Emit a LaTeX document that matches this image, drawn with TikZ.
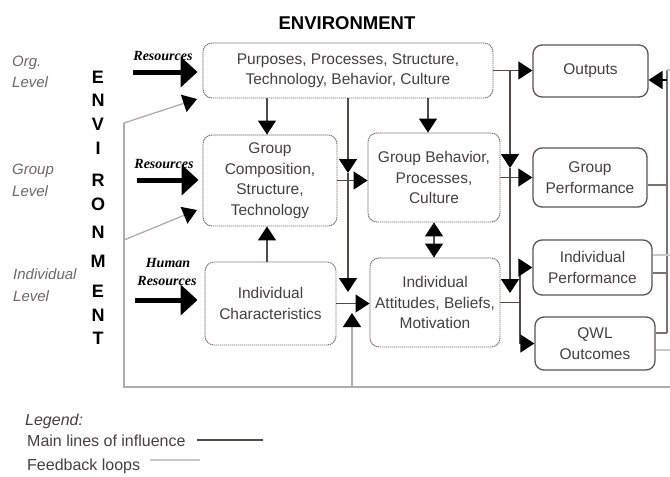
\documentclass[tikz,border=0pt]{standalone}
\usepackage{fontspec}
\setmainfont{Liberation Sans}
\newfontfamily\timesf{Liberation Serif}
\usetikzlibrary{arrows.meta}
\definecolor{boxline}{RGB}{120,105,105}
\definecolor{boxdark}{RGB}{95,82,82}
\definecolor{txt}{RGB}{70,64,64}
\definecolor{mainc}{RGB}{85,72,70}
\definecolor{fbc}{RGB}{180,170,170}
\definecolor{fbdark}{RGB}{125,112,112}
\definecolor{fbfaint}{RGB}{205,198,198}
\definecolor{levelc}{RGB}{110,104,104}
\tikzset{
  boxtext/.style={align=center, text=txt, inner sep=0pt, font=\fontsize{15.5}{20.5}\selectfont},
  dotbox/.style={boxtext, draw=boxline, rounded corners=9pt, line width=0.9pt, dash pattern=on 1.3pt off 0.7pt},
  solbox/.style={boxtext, draw=boxdark, rounded corners=9pt, line width=1.3pt},
  tipm/.tip={Triangle[length=14pt,width=18pt,color=black]},
  mainln/.style={draw=mainc, line width=1.3pt},
  fbln/.style={draw=fbc, line width=1.3pt},
  fbdk/.style={draw=fbdark, line width=1.3pt},
  fbft/.style={draw=fbfaint, line width=1.2pt},
  resarrow/.style={draw=black, line width=5pt, -{Triangle[length=17pt,width=30pt]}},
  reslabel/.style={font=\timesf\bfseries\itshape\fontsize{14}{14}\selectfont, inner sep=0pt},
  levellabel/.style={font=\itshape\fontsize{15}{21.5}\selectfont, text=levelc, align=left, anchor=west, inner sep=0pt},
  envletter/.style={font=\bfseries\fontsize{18}{18}\selectfont, inner sep=0pt},
  legendtext/.style={font=\fontsize{16}{16}\selectfont, text=txt, anchor=west, inner sep=0pt}
}
\begin{document}
\begin{tikzpicture}[x=1pt,y=-1pt]
\useasboundingbox[fill=white] (0,0) rectangle (670,477);

% title
\node[font=\bfseries\fontsize{18.5}{18.5}\selectfont, inner sep=0pt] (title) at (347,23) {ENVIRONMENT};

% level labels
\node[levellabel] (lorg) at (12,72) {Org.\\Level};
\node[levellabel] (lgrp) at (12,180.5) {Group\\Level};
\node[levellabel] (lind) at (13,285) {Individual\\Level};

% vertical ENVIRONMENT
\node[envletter] (e1) at (98,77) {E};
\node[envletter] (e2) at (98,100) {N};
\node[envletter] (e3) at (98,124) {V};
\node[envletter] (e4) at (98,148) {I};
\node[envletter] (e5) at (98,180) {R};
\node[envletter] (e6) at (98,204) {O};
\node[envletter] (e7) at (98,232) {N};
\node[envletter] (e8) at (98,261) {M};
\node[envletter] (e9) at (98,291) {E};
\node[envletter] (e10) at (98,315) {N};
\node[envletter] (e11) at (98,338) {T};

% boxes
\node[dotbox, minimum width=290pt, minimum height=55pt] (org) at (348,70.5) {Purposes, Processes, Structure,\\Technology, Behavior, Culture};
\node[dotbox, minimum width=134pt, minimum height=91pt] (gc) at (270,180.5) {Group\\Composition,\\Structure,\\Technology};
\node[dotbox, minimum width=131pt, minimum height=83pt] (ic) at (270.5,303.5) {Individual\\Characteristics};
\node[dotbox, minimum width=132pt, minimum height=89pt] (gb) at (434,177.5) {Group Behavior,\\Processes,\\Culture};
\node[dotbox, minimum width=130pt, minimum height=89pt] (ia) at (435,302.5) {Individual\\Attitudes, Beliefs,\\Motivation};
\node[solbox, minimum width=115pt, minimum height=52pt] (outp) at (590.5,71) {Outputs};
\node[solbox, minimum width=114pt, minimum height=59pt] (gp) at (590,177.5) {Group\\Performance};
\node[solbox, minimum width=119pt, minimum height=55pt] (ip) at (592.5,267.5) {Individual\\Performance};
\node[solbox, minimum width=120pt, minimum height=53pt] (qwl) at (595,343.5) {QWL\\Outcomes};

% resources
\node[reslabel] (res1) at (163,56) {Resources};
\node[reslabel] (res2) at (164,164) {Resources};
\node[reslabel] (hum3) at (168,263) {Human};
\node[reslabel] (res3) at (167,281) {Resources};
\coordinate (r1) at (133,72);
\coordinate (r2) at (137,180);
\coordinate (r3) at (135,300);
\draw[resarrow, shorten >=5pt] (r1) -- (r1 -| org.west);
\draw[resarrow, shorten >=4pt] (r2) -- (r2 -| gc.west);
\draw[resarrow, shorten >=7pt] (r3) -- (r3 -| ic.west);

% feedback loops (light)
\coordinate (L0) at (124,387);
\coordinate (L1) at (124,123);
\coordinate (L2) at (124,240);
\coordinate (T1) at (197,99);
\coordinate (T2) at (197,210);
\coordinate (B1) at (670,387);
\coordinate (fA) at (352,387);
\coordinate (fAt) at (352,313);
\draw[fbln] (B1) -- (L0) -- (L1);
\draw[fbln, -tipm] (L1) -- (T1);
\draw[fbln, -tipm] (L2) -- (T2);
\draw[fbln, -tipm] (fA) -- (fAt);

% feedback loops (right)
\coordinate (fbtop) at (667,80);
\coordinate (oe) at (648.5,80);
\coordinate (fbbot) at (667,333);
\coordinate (fg) at (667,185);
\coordinate (fi) at (667,273);
\coordinate (ftop) at (670,70);
\coordinate (fvt) at (667,70);
\coordinate (fx1) at (670,255);
\coordinate (fx2) at (670,350);
\draw[fbdk] (fbbot) -- (fvt);
\draw[black, line width=1.3pt, -{Triangle[length=14pt,width=18pt]}] (fbtop) -- (oe);
\draw[fbdk] (fg -| gp.east) -- (fg);
\draw[fbdk] (fi -| ip.east) -- (fi);
\draw[fbdk] (fbbot -| qwl.east) -- (fbbot);
\draw[fbft] (fvt) -- (ftop);
\draw[fbft] (fx1 -| ip.east) -- (fx1);
\draw[fbft] (fx2 -| qwl.east) -- (fx2);

% main lines
\coordinate (jA) at (348,173);
\coordinate (jA2) at (348,292);
\coordinate (jB0) at (510,70.5);
\coordinate (jB) at (510,168);
\coordinate (jB2) at (510,293);
\coordinate (jC) at (520,302.5);
\coordinate (oc) at (267,98);
\coordinate (ob) at (428,98);
\draw[mainln, -tipm] (oc) -- (oc |- gc.north);
\draw[mainln, -tipm] (ob) -- (ob |- gb.north);
\draw[mainln, -tipm] (org.south -| jA) -- (jA);
\draw[mainln, -tipm] (jA) -- (jA2);
\draw[mainln, -tipm] (gc.east) -- (gc.east -| gb.west);
\draw[mainln, -tipm] (ic.north -| oc) -- (gc.south -| oc);
\draw[mainln, -tipm] (ic.east) -- (ic.east -| ia.west);
\draw[mainln, tipm-tipm] (gb.south) -- (gb.south |- ia.north);
\draw[mainln, -tipm] (org.east) -- (org.east -| outp.west);
\draw[mainln, -tipm] (jB0) -- (jB);
\draw[mainln, -tipm] (jB) -- (jB2);
\draw[mainln, -tipm] (gb.east) -- (gb.east -| gp.west);
\draw[mainln] (ia.east) -- (jC);
\draw[mainln, -tipm] (jC) |- (ip.west);
\draw[mainln, -tipm] (jC) |- (qwl.west);

% legend
\node[legendtext, font=\itshape\fontsize{16}{16}\selectfont] (leg) at (25,421) {Legend:};
\node[legendtext] (legm) at (27,441) {Main lines of influence};
\node[legendtext] (legf) at (27,466) {Feedback loops};
\coordinate (lm1) at (197,440);
\coordinate (lm2) at (263,440);
\coordinate (lf1) at (150,460);
\coordinate (lf2) at (200,460);
\draw[mainln] (lm1) -- (lm2);
\draw[fbft] (lf1) -- (lf2);
\end{tikzpicture}
\end{document}
